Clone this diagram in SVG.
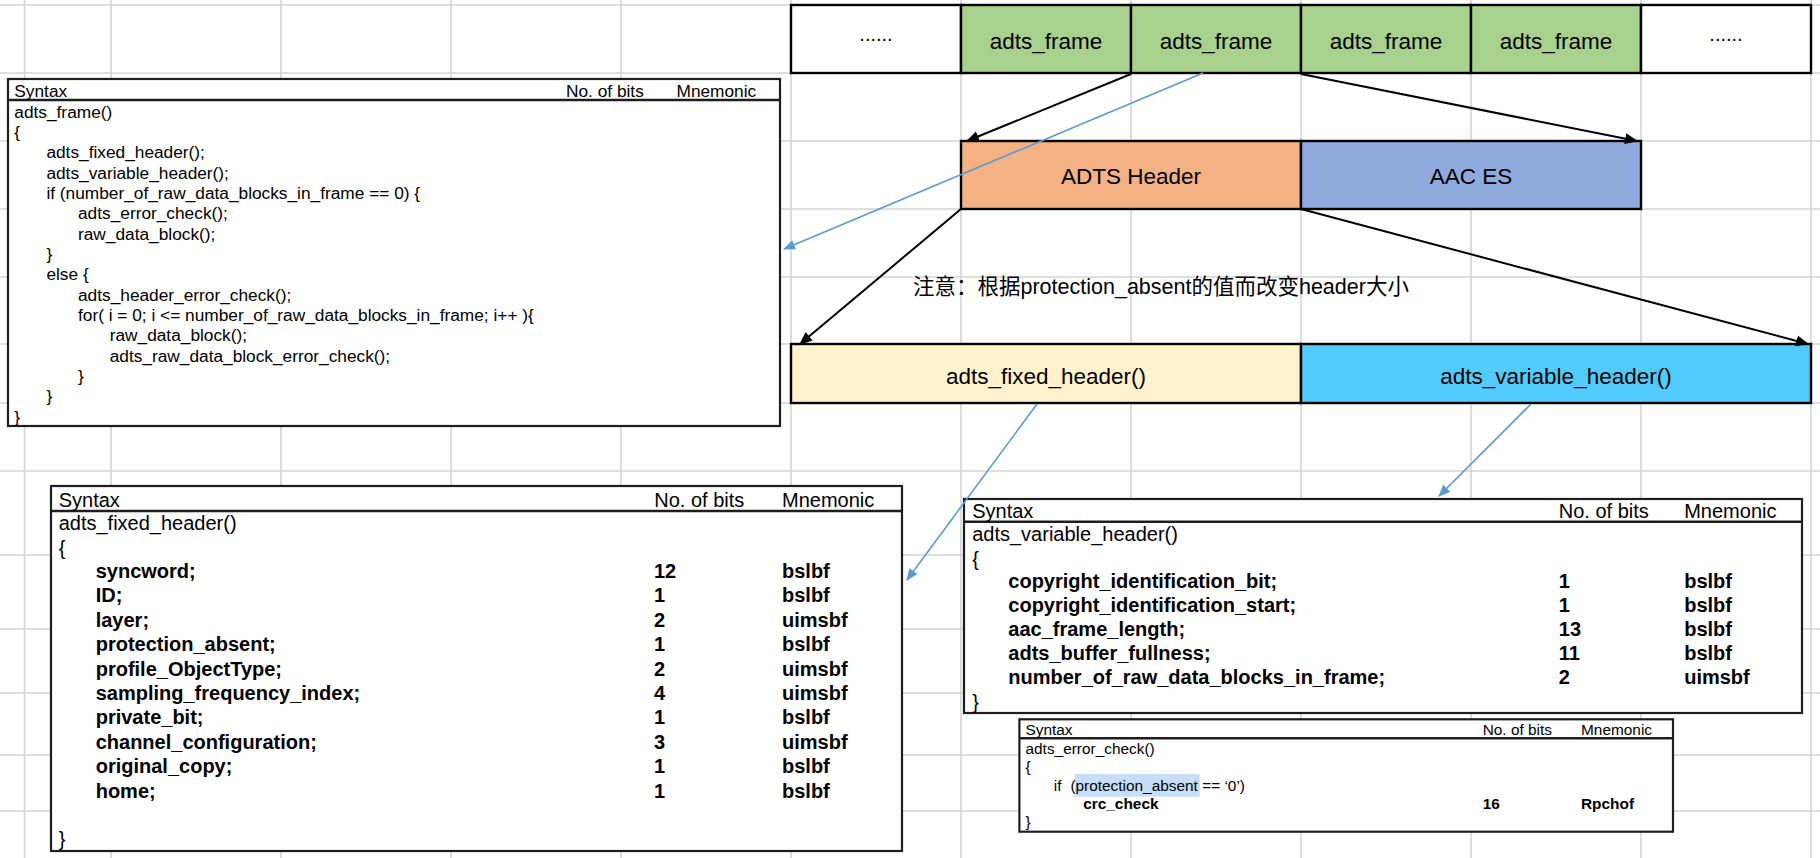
<svg xmlns="http://www.w3.org/2000/svg" width="1820" height="858" viewBox="0 0 1820 858">
<style>
.grid line{stroke:#d4d4d4;stroke-width:1.6}
.cell{stroke:#000;stroke-width:2.4}
.lbl{font-family:"Liberation Sans",Arial,sans-serif;font-size:22.5px;fill:#000;text-anchor:middle}
.tbl{fill:#fff;stroke:#1e1e1e;stroke-width:2.2}
.sep{stroke:#1e1e1e;stroke-width:2.6}
.t1{font-family:"Liberation Sans",Arial,sans-serif;font-size:17.3px;fill:#000}
.t2{font-family:"Liberation Sans",Arial,sans-serif;font-size:20px;fill:#000}
.t4{font-family:"Liberation Sans",Arial,sans-serif;font-size:15.4px;fill:#000}
.b{font-weight:bold}
.note{font-family:"Liberation Sans","Noto Sans CJK SC",sans-serif;font-size:21.5px;fill:#000}
.ak{stroke:#000;stroke-width:2;fill:none}
.ab{stroke:#5b9bd5;stroke-width:1.6;fill:none}
</style>
<defs>
<marker id="mk" markerUnits="userSpaceOnUse" markerWidth="13" markerHeight="12" viewBox="0 0 13 12" refX="12" refY="6" orient="auto"><path d="M0,0.5 L13,6 L0,11.5 z" fill="#000"/></marker>
<marker id="mb" markerUnits="userSpaceOnUse" markerWidth="12" markerHeight="11" viewBox="0 0 12 11" refX="11" refY="5.5" orient="auto"><path d="M0,0.5 L12,5.5 L0,10.5 z" fill="#5b9bd5"/></marker>
</defs>
<rect width="1820" height="858" fill="#fff"/>
<g class="grid">
<line x1="24.5" y1="0" x2="24.5" y2="858"/><line x1="111" y1="0" x2="111" y2="858"/><line x1="281" y1="0" x2="281" y2="858"/><line x1="451" y1="0" x2="451" y2="858"/><line x1="621" y1="0" x2="621" y2="858"/><line x1="791" y1="0" x2="791" y2="858"/><line x1="961" y1="0" x2="961" y2="858"/><line x1="1131" y1="0" x2="1131" y2="858"/><line x1="1301" y1="0" x2="1301" y2="858"/><line x1="1471" y1="0" x2="1471" y2="858"/><line x1="1641" y1="0" x2="1641" y2="858"/><line x1="1811" y1="0" x2="1811" y2="858"/>
<line x1="0" y1="5" x2="1820" y2="5"/><line x1="0" y1="73" x2="1820" y2="73"/><line x1="0" y1="141" x2="1820" y2="141"/><line x1="0" y1="209" x2="1820" y2="209"/><line x1="0" y1="277" x2="1820" y2="277"/><line x1="0" y1="344" x2="1820" y2="344"/><line x1="0" y1="403" x2="1820" y2="403"/><line x1="0" y1="471" x2="1820" y2="471"/><line x1="0" y1="555" x2="1820" y2="555"/><line x1="0" y1="629" x2="1820" y2="629"/><line x1="0" y1="693" x2="1820" y2="693"/><line x1="0" y1="755" x2="1820" y2="755"/><line x1="0" y1="811" x2="1820" y2="811"/>
</g>

<g id="frame-stream">
<rect class="cell" x="791" y="5" width="170" height="68" fill="#fff"/>
<rect class="cell" x="961" y="5" width="170" height="68" fill="#a9d18e"/>
<rect class="cell" x="1131" y="5" width="170" height="68" fill="#a9d18e"/>
<rect class="cell" x="1301" y="5" width="170" height="68" fill="#a9d18e"/>
<rect class="cell" x="1471" y="5" width="170" height="68" fill="#a9d18e"/>
<rect class="cell" x="1641" y="5" width="170" height="68" fill="#fff"/>
<text class="lbl" x="876" y="41" style="font-size:20px">......</text>
<text class="lbl" x="1046" y="48.5">adts_frame</text>
<text class="lbl" x="1216" y="48.5">adts_frame</text>
<text class="lbl" x="1386" y="48.5">adts_frame</text>
<text class="lbl" x="1556" y="48.5">adts_frame</text>
<text class="lbl" x="1726" y="41" style="font-size:20px">......</text>
</g>

<g id="adts-header">
<rect class="cell" x="961" y="141" width="340" height="68" fill="#f4b183"/>
<text class="lbl" x="1131" y="183.5">ADTS Header</text>
</g>
<g id="aac-es">
<rect class="cell" x="1301" y="141" width="340" height="68" fill="#8faadc"/>
<text class="lbl" x="1471" y="183.5">AAC ES</text>
</g>

<g id="note">
<text class="note" x="913" y="294">注意：根据protection_absent的值而改变header大小</text>
</g>

<g id="fixed-header-bar">
<rect class="cell" x="791" y="344" width="510" height="59" fill="#fff2cc"/>
<text class="lbl" x="1046" y="383.5">adts_fixed_header()</text>
</g>
<g id="variable-header-bar">
<rect class="cell" x="1301" y="344" width="510" height="59" fill="#51cbfb"/>
<text class="lbl" x="1556" y="383.5">adts_variable_header()</text>
</g>

<g id="table-adts-frame">
<rect class="tbl" x="8" y="79" width="772" height="347"/>
<line class="sep" x1="8" y1="100" x2="780" y2="100"/>
<g class="t1">
<text x="14.3" y="96.5">Syntax</text><text x="566" y="96.5">No. of bits</text><text x="676.5" y="96.5">Mnemonic</text>
<text x="14.3" y="117.7">adts_frame()</text>
<text x="14.3" y="138">{</text>
<text x="46.4" y="158.4">adts_fixed_header();</text>
<text x="46.4" y="178.7">adts_variable_header();</text>
<text x="46.4" y="199">if (number_of_raw_data_blocks_in_frame == 0) {</text>
<text x="78" y="219.4">adts_error_check();</text>
<text x="78" y="239.7">raw_data_block();</text>
<text x="46.4" y="260">}</text>
<text x="46.4" y="280.4">else {</text>
<text x="78" y="300.7">adts_header_error_check();</text>
<text x="78" y="321">for( i = 0; i &lt;= number_of_raw_data_blocks_in_frame; i++ ){</text>
<text x="109.7" y="341.4">raw_data_block();</text>
<text x="109.7" y="361.7">adts_raw_data_block_error_check();</text>
<text x="78" y="382">}</text>
<text x="46.4" y="402.4">}</text>
<text x="14.3" y="422.7">}</text>
</g>
</g>

<g id="table-fixed-header">
<rect class="tbl" x="51" y="486" width="851" height="365"/>
<line class="sep" x1="51" y1="511" x2="902" y2="511"/>
<g class="t2">
<text x="58.7" y="507">Syntax</text><text x="654.3" y="507">No. of bits</text><text x="782" y="507">Mnemonic</text>
<text x="58.7" y="530">adts_fixed_header()</text>
<text x="58.7" y="555">{</text>
</g>
<g class="t2 b">
<text x="95.7" y="578">syncword;</text><text x="654" y="578">12</text><text x="782" y="578">bslbf</text>
<text x="95.7" y="602.4">ID;</text><text x="654" y="602.4">1</text><text x="782" y="602.4">bslbf</text>
<text x="95.7" y="626.8">layer;</text><text x="654" y="626.8">2</text><text x="782" y="626.8">uimsbf</text>
<text x="95.7" y="651.2">protection_absent;</text><text x="654" y="651.2">1</text><text x="782" y="651.2">bslbf</text>
<text x="95.7" y="675.6">profile_ObjectType;</text><text x="654" y="675.6">2</text><text x="782" y="675.6">uimsbf</text>
<text x="95.7" y="700">sampling_frequency_index;</text><text x="654" y="700">4</text><text x="782" y="700">uimsbf</text>
<text x="95.7" y="724.4">private_bit;</text><text x="654" y="724.4">1</text><text x="782" y="724.4">bslbf</text>
<text x="95.7" y="748.8">channel_configuration;</text><text x="654" y="748.8">3</text><text x="782" y="748.8">uimsbf</text>
<text x="95.7" y="773.2">original_copy;</text><text x="654" y="773.2">1</text><text x="782" y="773.2">bslbf</text>
<text x="95.7" y="797.6">home;</text><text x="654" y="797.6">1</text><text x="782" y="797.6">bslbf</text>
</g>
<text class="t2" x="58.7" y="846">}</text>
</g>

<g id="table-variable-header">
<rect class="tbl" x="964" y="499" width="838" height="214"/>
<line class="sep" x1="964" y1="521.7" x2="1802" y2="521.7"/>
<g class="t2">
<text x="972.2" y="518">Syntax</text><text x="1558.8" y="518">No. of bits</text><text x="1684.2" y="518">Mnemonic</text>
<text x="972.2" y="541">adts_variable_header()</text>
<text x="972.2" y="566">{</text>
</g>
<g class="t2 b">
<text x="1008.3" y="588.3">copyright_identification_bit;</text><text x="1558.8" y="588.3">1</text><text x="1684.2" y="588.3">bslbf</text>
<text x="1008.3" y="612.3">copyright_identification_start;</text><text x="1558.8" y="612.3">1</text><text x="1684.2" y="612.3">bslbf</text>
<text x="1008.3" y="636.3">aac_frame_length;</text><text x="1558.8" y="636.3">13</text><text x="1684.2" y="636.3">bslbf</text>
<text x="1008.3" y="660.3">adts_buffer_fullness;</text><text x="1558.8" y="660.3">11</text><text x="1684.2" y="660.3">bslbf</text>
<text x="1008.3" y="684.3">number_of_raw_data_blocks_in_frame;</text><text x="1558.8" y="684.3">2</text><text x="1684.2" y="684.3">uimsbf</text>
</g>
<text class="t2" x="972.2" y="708.5">}</text>
</g>

<g id="table-error-check">
<rect class="tbl" x="1019.4" y="719.3" width="653.6" height="112.4"/>
<line class="sep" x1="1019.4" y1="738.3" x2="1673" y2="738.3"/>
<rect x="1074.9" y="774" width="124.8" height="22.7" fill="#c6defa"/>
<g class="t4">
<text x="1025.5" y="735">Syntax</text><text x="1482.7" y="735">No. of bits</text><text x="1581" y="735">Mnemonic</text>
<text x="1025.5" y="753.5">adts_error_check()</text>
<text x="1025.5" y="772">{</text>
<text x="1053.8" y="790.5">if</text>
<text x="1070.4" y="790.5">(protection_absent == ‘0’)</text>
<text x="1025.5" y="827">}</text>
</g>
<g class="t4 b">
<text x="1083.2" y="808.7">crc_check</text><text x="1482.7" y="808.7">16</text><text x="1581" y="808.7">Rpchof</text>
</g>
</g>

<g id="connectors">
<line class="ak" x1="1131" y1="74" x2="967" y2="141" marker-end="url(#mk)"/>
<line class="ak" x1="1301" y1="74" x2="1637" y2="141" marker-end="url(#mk)"/>
<line class="ak" x1="961" y1="209" x2="800" y2="344" marker-end="url(#mk)"/>
<line class="ak" x1="1301" y1="209" x2="1808" y2="344" marker-end="url(#mk)"/>
<line class="ab" x1="1203" y1="73" x2="784" y2="249" marker-end="url(#mb)"/>
<line class="ab" x1="1037" y1="404" x2="907" y2="580" marker-end="url(#mb)"/>
<line class="ab" x1="1531" y1="404" x2="1439" y2="496" marker-end="url(#mb)"/>
</g>
</svg>
